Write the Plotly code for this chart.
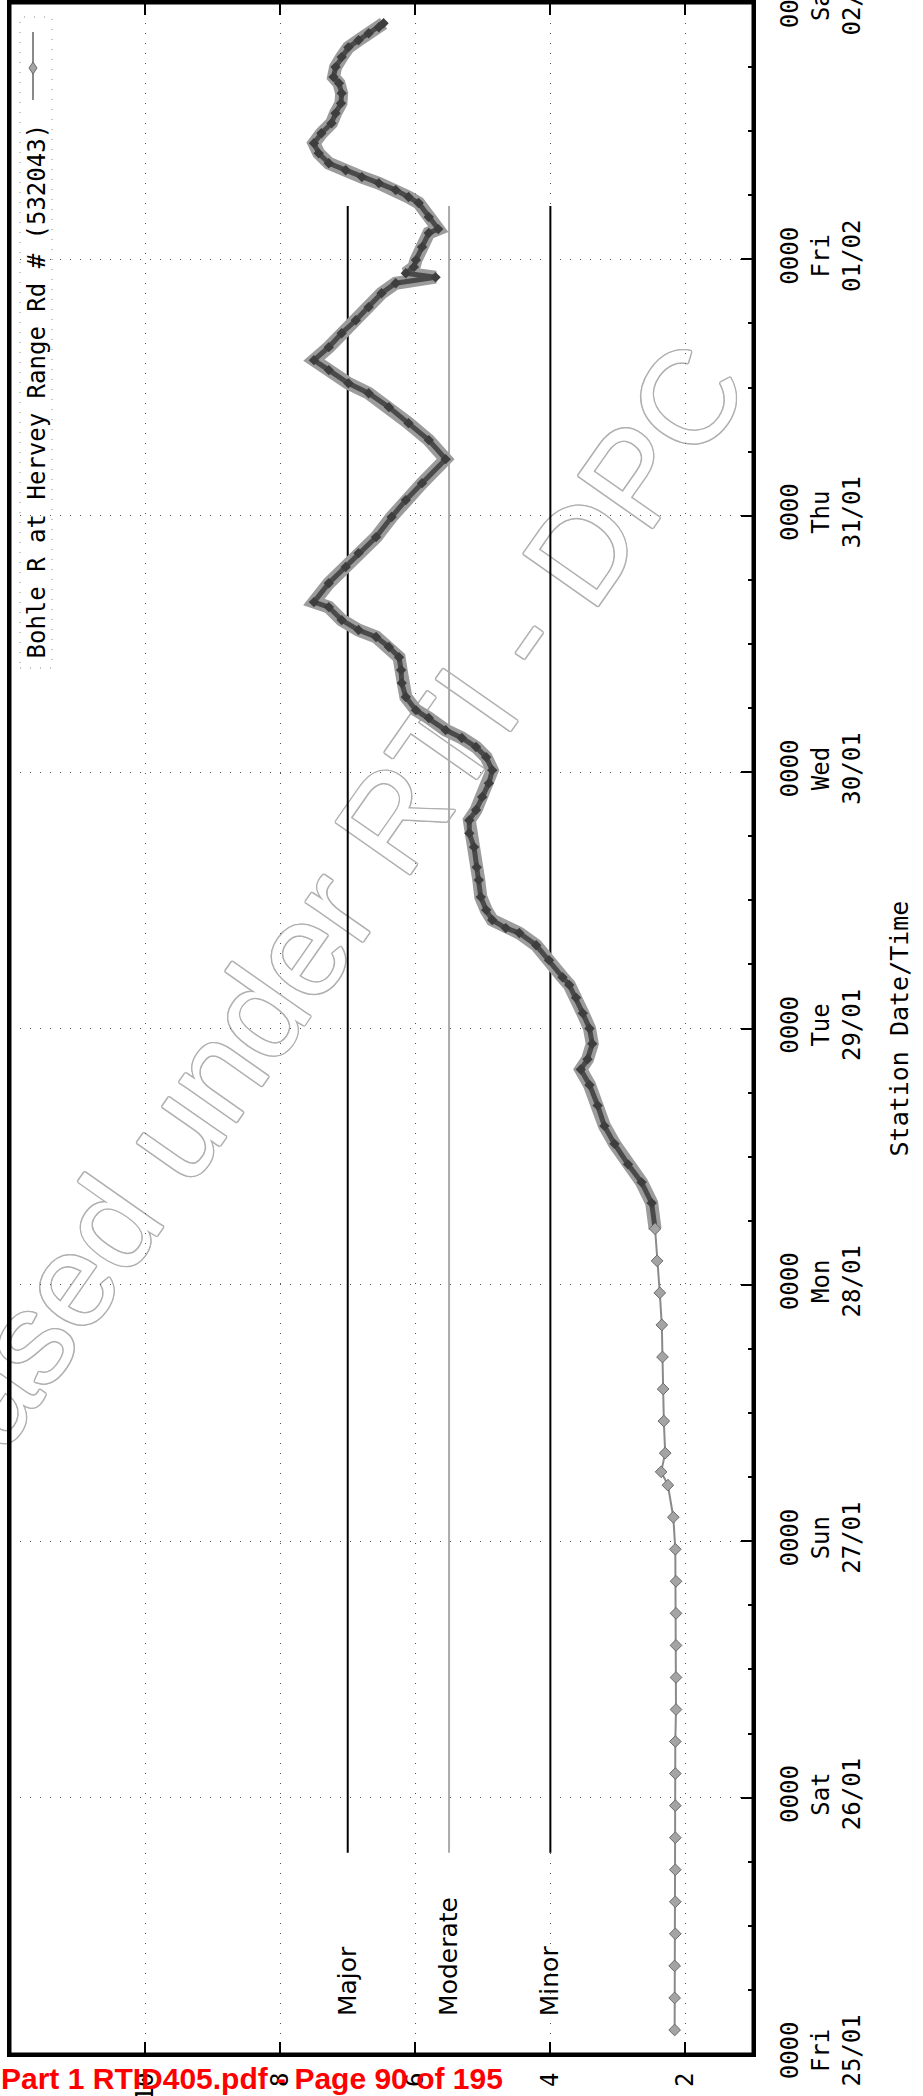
import math
import plotly.graph_objects as go

# ---------------------------------------------------------------
# River level record, Bohle R at Hervey Range Rd # (532043)
# ---------------------------------------------------------------
obs_time = [
    "2019-01-25 02:15", "2019-01-25 05:15", "2019-01-25 08:15", "2019-01-25 11:15",
    "2019-01-25 14:15", "2019-01-25 17:15", "2019-01-25 20:15", "2019-01-25 23:15",
    "2019-01-26 02:15", "2019-01-26 05:15", "2019-01-26 08:15", "2019-01-26 11:15",
    "2019-01-26 14:15", "2019-01-26 17:15", "2019-01-26 20:15", "2019-01-26 23:15",
    "2019-01-27 02:15", "2019-01-27 05:15", "2019-01-27 06:30", "2019-01-27 08:15",
    "2019-01-27 11:15", "2019-01-27 14:15", "2019-01-27 17:15", "2019-01-27 20:15",
    "2019-01-27 23:15", "2019-01-28 02:15", "2019-01-28 05:15",
    "2019-01-28 07:40", "2019-01-28 09:36", "2019-01-28 11:17", "2019-01-28 13:12",
    "2019-01-28 14:53", "2019-01-28 16:48", "2019-01-28 18:43", "2019-01-28 20:10",
    "2019-01-28 21:07", "2019-01-28 22:34", "2019-01-29 00:00", "2019-01-29 01:26",
    "2019-01-29 02:53", "2019-01-29 04:05", "2019-01-29 04:48", "2019-01-29 06:24",
    "2019-01-29 07:48", "2019-01-29 08:56", "2019-01-29 09:24", "2019-01-29 10:09",
    "2019-01-29 11:05", "2019-01-29 12:18", "2019-01-29 13:54", "2019-01-29 15:06",
    "2019-01-29 16:59", "2019-01-29 18:17", "2019-01-29 19:30", "2019-01-29 20:27",
    "2019-01-29 21:40", "2019-01-29 22:58", "2019-01-30 00:11", "2019-01-30 01:24",
    "2019-01-30 02:21", "2019-01-30 03:12", "2019-01-30 03:56", "2019-01-30 05:04",
    "2019-01-30 05:48", "2019-01-30 07:02", "2019-01-30 08:20", "2019-01-30 09:33",
    "2019-01-30 10:45", "2019-01-30 11:43", "2019-01-30 12:39", "2019-01-30 13:18",
    "2019-01-30 14:14", "2019-01-30 15:27", "2019-01-30 15:55", "2019-01-30 17:41",
    "2019-01-30 19:12", "2019-01-30 20:30", "2019-01-30 22:00", "2019-01-30 23:53",
    "2019-01-31 01:28", "2019-01-31 03:03", "2019-01-31 05:18", "2019-01-31 07:05",
    "2019-01-31 08:40", "2019-01-31 10:10", "2019-01-31 11:28", "2019-01-31 12:24",
    "2019-01-31 13:38", "2019-01-31 14:34", "2019-01-31 15:47", "2019-01-31 17:05",
    "2019-01-31 18:18", "2019-01-31 19:32", "2019-01-31 20:50", "2019-01-31 21:46",
    "2019-01-31 22:20", "2019-01-31 22:42", "2019-01-31 23:17", "2019-01-31 23:56",
    "2019-02-01 01:09", "2019-02-01 02:28", "2019-02-01 02:50", "2019-02-01 03:58",
    "2019-02-01 05:17", "2019-02-01 05:50", "2019-02-01 06:29", "2019-02-01 07:08",
    "2019-02-01 07:42", "2019-02-01 08:21", "2019-02-01 09:00", "2019-02-01 09:56",
    "2019-02-01 10:52", "2019-02-01 11:48", "2019-02-01 12:45", "2019-02-01 13:41",
    "2019-02-01 14:37", "2019-02-01 15:33", "2019-02-01 16:29", "2019-02-01 17:04",
    "2019-02-01 18:00", "2019-02-01 18:56", "2019-02-01 19:51", "2019-02-01 20:31",
    "2019-02-01 21:10", "2019-02-01 21:44", "2019-02-01 22:06",
]
obs_level = [
    2.16, 2.16, 2.16, 2.15,
    2.15, 2.15, 2.15, 2.15,
    2.15, 2.15, 2.14, 2.14,
    2.14, 2.14, 2.14, 2.15,
    2.18, 2.26, 2.36, 2.30,
    2.32, 2.33, 2.34, 2.35,
    2.38, 2.42, 2.45,
    2.50, 2.65, 2.85, 3.05,
    3.20, 3.30, 3.42, 3.55,
    3.45, 3.38, 3.42, 3.52,
    3.62, 3.72, 3.82, 4.02,
    4.21, 4.46, 4.66, 4.86,
    4.95, 5.03, 5.06, 5.09,
    5.13, 5.20, 5.20, 5.10,
    5.01, 4.91, 4.86, 4.95,
    5.10, 5.31, 5.55, 5.80,
    5.99, 6.14, 6.20, 6.21,
    6.24, 6.39, 6.58, 6.84,
    7.09, 7.28, 7.50, 7.28,
    7.03, 6.84, 6.58, 6.35,
    6.14, 5.90, 5.55, 5.80,
    6.10, 6.39, 6.69, 6.99,
    7.28, 7.50, 7.28, 7.09,
    6.88, 6.69, 6.50, 6.29,
    5.70, 6.14, 6.02, 5.99,
    5.90, 5.80, 5.66, 5.80,
    5.95, 6.10, 6.29, 6.54,
    6.79, 7.03, 7.28, 7.43,
    7.50, 7.39, 7.24, 7.18,
    7.10, 7.09, 7.13, 7.21,
    7.18, 7.09, 6.99, 6.84,
    6.69, 6.54, 6.47,
]
# readings become event-based (dense) once the river starts to rise
rise_index = 26

series_name = "Bohle R at Hervey Range Rd # (532043)"

# day ticks on the time axis
day_ticks = ["2019-01-25", "2019-01-26", "2019-01-27", "2019-01-28", "2019-01-29",
             "2019-01-30", "2019-01-31", "2019-02-01", "2019-02-02"]
day_names = ["Fri", "Sat", "Sun", "Mon", "Tue", "Wed", "Thu", "Fri", "Sat"]
day_dates = ["25/01", "26/01", "27/01", "28/01", "29/01", "30/01", "31/01", "01/02", "02/02"]

level_ticks = [2, 4, 6, 8, 10]

# flood classification levels
flood_names = ["Major", "Moderate", "Minor"]
flood_levels = [7.0, 5.5, 4.0]
flood_period = ["2019-01-25 18:50", "2019-02-01 05:00"]
flood_label_time = "2019-01-25 03:20"

# ---------------------------------------------------------------
W, H = 923, 2096
ML, MR, MT, MB = 10, 170, 3, 42
PW, PH = W - ML - MR, H - MT - MB


def paper_x(px):
    return (px - ML) / PW


def paper_y(py):
    return (H - MB - py) / PH


MONO = "DejaVu Sans Mono"
fig = go.Figure()

# flood level lines
flood_styles = {"Major": dict(color="black", width=2),
                "Moderate": dict(color="#ababab", width=2),
                "Minor": dict(color="black", width=2)}
for name, lvl in zip(flood_names, flood_levels):
    fig.add_trace(go.Scatter(x=[lvl, lvl], y=flood_period, mode="lines",
                             line=flood_styles[name], showlegend=False, hoverinfo="skip"))
    fig.add_annotation(x=lvl, y=flood_label_time, xref="x", yref="y", text=name,
                       textangle=-90, showarrow=False, xanchor="center", yanchor="bottom",
                       font=dict(family="DejaVu Sans", size=25, color="black"))

# river level: sparse early readings and the dense flood record
fig.add_trace(go.Scatter(
    x=obs_level[rise_index:], y=obs_time[rise_index:], mode="lines",
    line=dict(color="#9c9c9c", width=13),
    showlegend=False, hoverinfo="skip"))
fig.add_trace(go.Scatter(
    x=obs_level[rise_index:], y=obs_time[rise_index:], mode="lines+markers",
    line=dict(color="#4a4a4a", width=5),
    marker=dict(symbol="diamond", size=8, color="#3e3e3e"),
    showlegend=False, name=series_name))
fig.add_trace(go.Scatter(
    x=obs_level[:rise_index + 1], y=obs_time[:rise_index + 1], mode="lines+markers",
    line=dict(color="#8a8a8a", width=2),
    marker=dict(symbol="diamond", size=9, color="#a4a4a4",
                line=dict(color="#6a6a6a", width=1)),
    showlegend=False, name=series_name))

# legend (drawn rotated, top-left of the plot) with its dotted box
fig.add_shape(type="rect", xref="paper", yref="paper",
              x0=paper_x(20), x1=paper_x(52), y0=paper_y(668), y1=paper_y(17),
              line=dict(color="#8a8a8a", width=1, dash="1px,9px"))
lx = paper_x(33)
fig.add_shape(type="line", xref="paper", yref="paper", x0=lx, x1=lx,
              y0=paper_y(32), y1=paper_y(100), line=dict(color="#8a8a8a", width=2))
fig.add_shape(type="path", xref="paper", yref="paper", xsizemode="pixel", ysizemode="pixel",
              xanchor=lx, yanchor=paper_y(68), path="M 0 6 L 4 0 L 0 -6 L -4 0 Z",
              fillcolor="#a4a4a4", line=dict(color="#6a6a6a", width=1))
fig.add_annotation(x=paper_x(37), y=paper_y(122), xref="paper", yref="paper",
                   text=series_name, textangle=-90, showarrow=False,
                   xanchor="center", yanchor="top",
                   font=dict(family=MONO, size=24, color="black"))

# plot frame
fig.add_shape(type="rect", xref="paper", yref="paper", x0=0, x1=1, y0=0, y1=1,
              line=dict(color="black", width=3), layer="above")

# watermark of the released document
wm_text = "Released under RTI - DPC"
wm_cx, wm_cy, wm_ang = 252, 998, 55
ux, uy = math.cos(math.radians(wm_ang)), -math.sin(math.radians(wm_ang))
wm_outline = ", ".join(f"{dx}px {dy}px 0 #b0b0b0" for dx, dy in
                       [(1.5, 0), (-1.5, 0), (0, 1.5), (0, -1.5), (1, 1), (-1, -1), (1, -1), (-1, 1)])
try:
    fig.add_shape(go.layout.Shape(
        type="line", xref="paper", yref="paper", layer="below",
        x0=paper_x(wm_cx - 300 * ux), y0=paper_y(wm_cy - 300 * uy),
        x1=paper_x(wm_cx + 300 * ux), y1=paper_y(wm_cy + 300 * uy),
        line=dict(width=0, color="rgba(0,0,0,0)"),
        label=dict(text=wm_text, textangle=-wm_ang, textposition="middle",
                   xanchor="center", yanchor="middle", padding=0,
                   font=dict(family="Liberation Sans", size=132, color="white",
                             shadow=wm_outline))))
except ValueError:
    fig.add_annotation(x=paper_x(wm_cx), y=paper_y(wm_cy), xref="paper", yref="paper",
                       text=wm_text, textangle=-wm_ang, showarrow=False,
                       font=dict(family="Liberation Sans", size=132,
                                 color="rgba(150,150,150,0.3)"))

# page footer of the document
fig.add_annotation(x=paper_x(0), y=paper_y(H), xref="paper", yref="paper",
                   text="<b>Part 1 RTID405.pdf - Page 90 of 195</b>", showarrow=False,
                   xanchor="left", yanchor="bottom", borderpad=0,
                   font=dict(family="Liberation Sans", size=30, color="#ff0000"))

grid_dash = "1px,9px"
fig.update_layout(
    width=W, height=H, autosize=False,
    margin=dict(l=ML, r=MR, t=MT, b=MB, pad=0, autoexpand=False),
    paper_bgcolor="white", plot_bgcolor="rgba(0,0,0,0)",
    showlegend=False,
    xaxis=dict(
        range=[12, 1], tickmode="array", tickvals=level_ticks,
        ticktext=[str(v) for v in level_ticks], tickangle=-90,
        ticks="inside", ticklen=12, tickwidth=2, tickcolor="black",
        showline=True, linewidth=3, linecolor="black", mirror="ticks",
        showgrid=True, gridcolor="#555", gridwidth=1, griddash=grid_dash,
        zeroline=False, tickfont=dict(family=MONO, size=24, color="black"),
        ticklabelstandoff=6, automargin=False,
    ),
    yaxis=dict(
        type="date", range=[day_ticks[0], day_ticks[-1]], side="right",
        tickmode="array", tickvals=day_ticks,
        ticktext=[f"0000<br>{n}<br>{d}" for n, d in zip(day_names, day_dates)],
        tickangle=-90, ticks="inside", ticklen=12, tickwidth=2, tickcolor="black",
        showline=True, linewidth=3, linecolor="black", mirror=True,
        showgrid=True, gridcolor="#555", gridwidth=1, griddash=grid_dash,
        zeroline=False, tickfont=dict(family=MONO, size=24, color="black"),
        ticklabelstandoff=13, ticklabeloverflow="allow", automargin=False,
        minor=dict(ticks="inside", ticklen=5, tickwidth=1.5, tickcolor="black",
                   tick0=day_ticks[0], dtick=6 * 3600 * 1000, showgrid=False),
        title=dict(text="Station Date/Time", standoff=26,
                   font=dict(family=MONO, size=25, color="black")),
    ),
)

fig.write_html("out.html")
